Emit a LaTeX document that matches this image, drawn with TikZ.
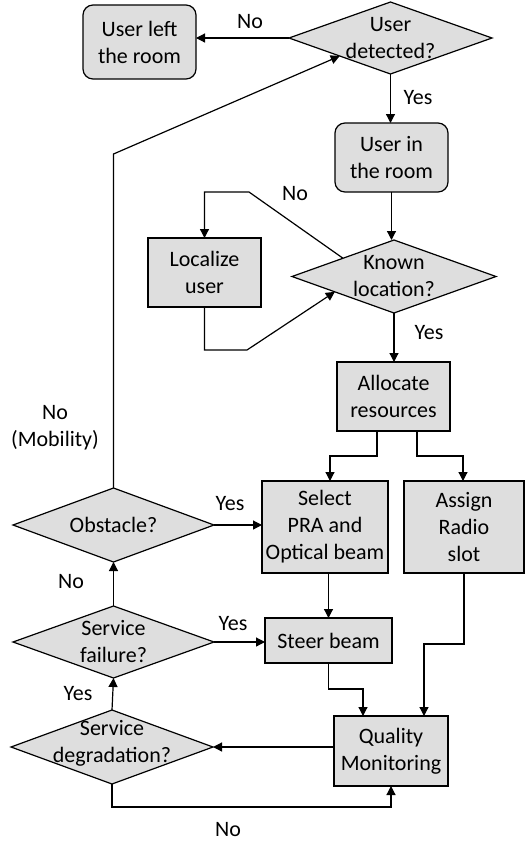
\documentclass[tikz,border=0pt]{standalone}
\usepackage{fontspec}
\setmainfont{Carlito}
\usetikzlibrary{shapes.geometric,arrows.meta,calc}
\definecolor{boxgray}{RGB}{222,222,222}
\tikzset{
  base/.style={draw=black, line width=1.2pt, fill=boxgray, inner sep=0pt, outer sep=0pt,
    font=\fontsize{22}{27}\selectfont, align=center},
  procbox/.style={base, rectangle, minimum width=#1},
  roundbox/.style={base, rectangle, rounded corners=10pt, minimum width=#1},
  decision/.style={base, diamond, minimum width=#1},
  flow/.style={line width=1.2pt, -{Triangle[length=9pt,width=9pt]}},
  lbl/.style={font=\fontsize{22}{27}\selectfont, align=center, inner sep=0pt}
}
\begin{document}
\begin{tikzpicture}[x=1pt, y=-1pt]
\useasboundingbox (0,0) rectangle (532,844);

% process and terminal boxes
\node[roundbox=113pt, minimum height=74pt] (ul) at (139.5,42) {User left\\the room};
\node[roundbox=113pt, minimum height=69pt] (ur) at (391.5,157.5) {User in\\the room};
\node[procbox=113pt, minimum height=69pt] (lu) at (204.5,272.5) {Localize\\user};
\node[procbox=113pt, minimum height=69pt] (al) at (393.5,396.5) {Allocate\\resources};
\node[procbox=126pt, minimum height=92pt] (se) at (325,527) {Select\\PRA and\\Optical beam};
\node[procbox=120pt, minimum height=92pt] (as) at (464,527) {Assign\\Radio\\slot};
\node[procbox=127pt, minimum height=45pt] (sb) at (328.5,640.5) {Steer beam};
\node[procbox=114pt, minimum height=70pt] (qm) at (391,751) {Quality\\Monitoring};

% decisions
\node[decision=203pt, minimum height=72pt,
  label={[lbl]center:User\\detected?}] (ud) at (390.5,38) {};
\node[decision=204pt, minimum height=73pt,
  label={[lbl]center:Known\\location?}] (kl) at (394,276.5) {};
\node[decision=201pt, minimum height=74pt,
  label={[lbl]center:Obstacle?}] (ob) at (113.5,525) {};
\node[decision=201pt, minimum height=72pt,
  label={[lbl]center:Service\\failure?}] (sf) at (113.5,642) {};
\node[decision=202pt, minimum height=74pt,
  label={[lbl,yshift=4pt]center:Service\\degradation?}] (sd) at (112,747) {};

% routing points
\coordinate (nobend) at (249,192);
\coordinate (mobbend) at (113.5,154);

% connectors
\draw[flow] (ud.west) -- (ud.west -| ul.east);
\draw[flow] (ud.south) -- (ud.south |- ur.north);
\draw[flow] (ur.south) -- (ur.south |- kl.north);
\draw[flow] (kl.north west) -- (nobend) -| (lu.north);
\draw[flow] (lu.south) |- (247,350) -- ($(kl.west)!0.42!(kl.south)$);
\draw[flow] (kl.south) -- (kl.south |- al.north);
\draw[flow] (al.south -| 377,0) |- (330,456) -- (330,0 |- se.north);
\draw[flow] (al.south -| 417,0) |- (463,456) -- (463,0 |- as.north);
\draw[flow] (ob.east) -- (ob.east -| se.west);
\draw[flow] (ob.north) -- (mobbend) -- (ud.south west);
\draw[flow] (sf.north) -- (ob.south);
\draw[flow] (se.south -| sb.north) -- (sb.north);
\draw[flow] (sf.east) -- (sf.east -| sb.west);
\draw[flow] (as.south) |- (424,644) -- (424,0 |- qm.north);
\draw[flow] (sb.south) |- (363,689) -- (363,0 |- qm.north);
\draw[flow] (qm.west |- 0,747) -- (sd.east);
\draw[flow] (sd.north) -- (sf.south);
\draw[flow] (sd.south) |- (qm.south |- 0,807) -- (qm.south);

% branch labels
\node[lbl] (l1) at (250,22) {No};
\node[lbl] (l2) at (418,98) {Yes};
\node[lbl] (l3) at (295,194) {No};
\node[lbl] (l4) at (429,333) {Yes};
\node[lbl] (l5) at (55,428) {No\\(Mobility)};
\node[lbl] (l6) at (230,504) {Yes};
\node[lbl] (l7) at (71,582) {No};
\node[lbl] (l8) at (233,624) {Yes};
\node[lbl] (l9) at (78,694) {Yes};
\node[lbl] (l10) at (228,830) {No};
\end{tikzpicture}
\end{document}
